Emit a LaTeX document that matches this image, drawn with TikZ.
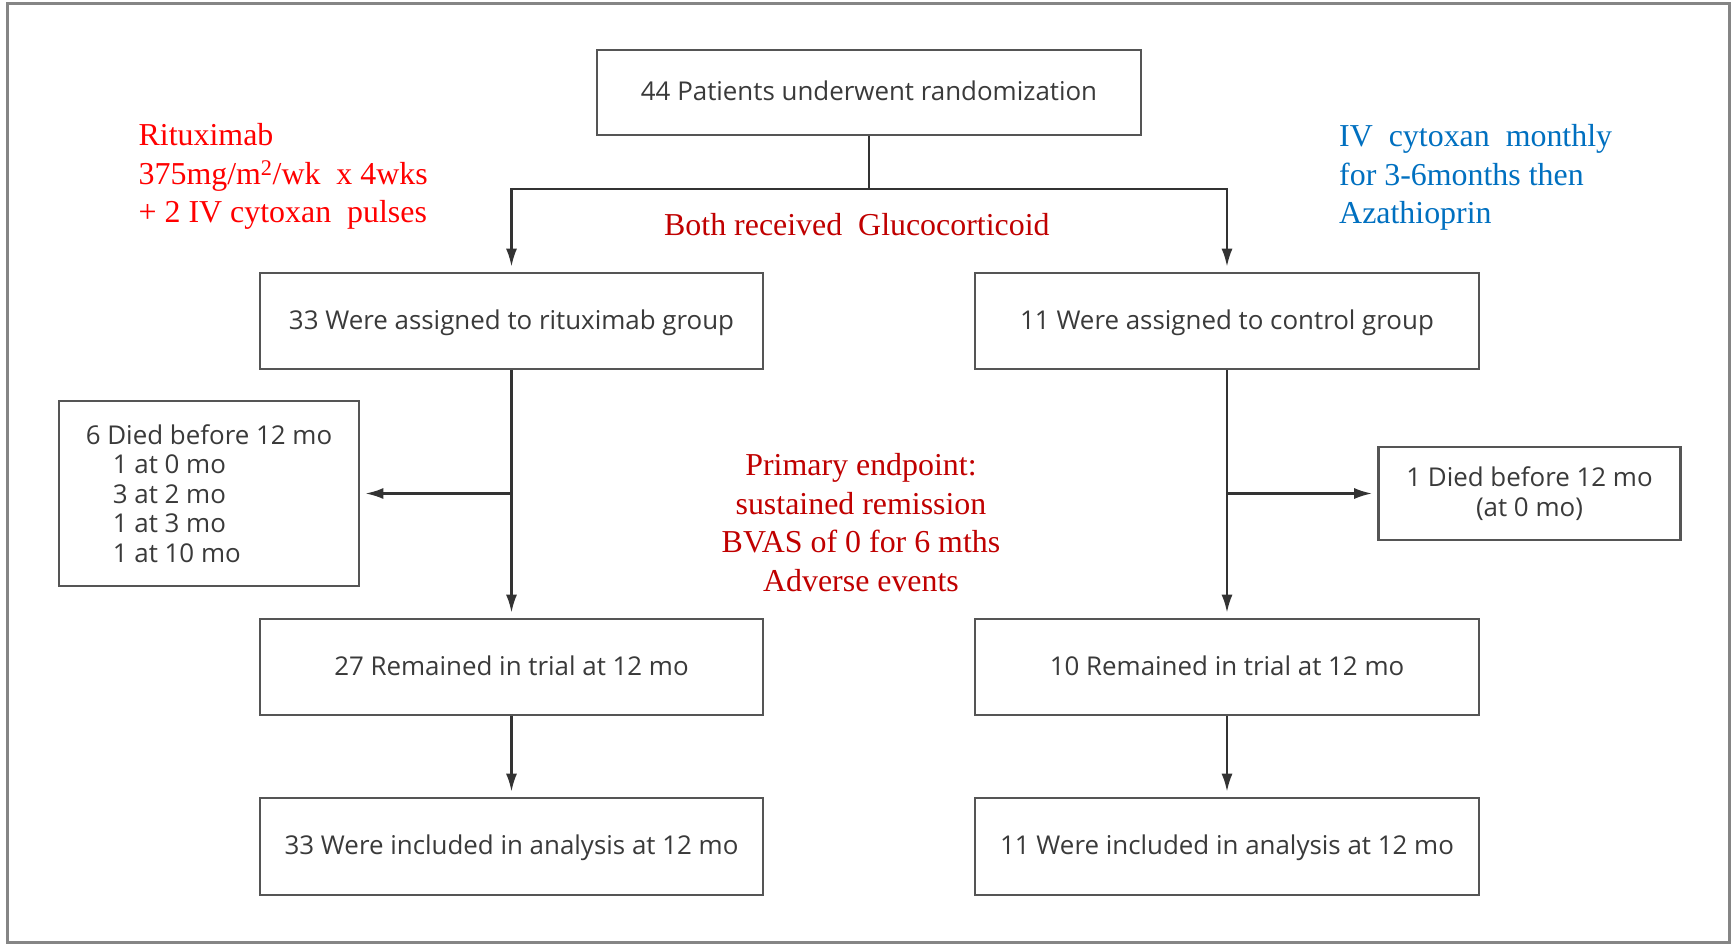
\documentclass[tikz,border=0pt]{standalone}
\usepackage{fontspec}
\setmainfont{Liberation Serif}
\newfontfamily\boxfont{Open Sans}
\usetikzlibrary{arrows.meta}
\definecolor{boxline}{HTML}{555555}
\definecolor{linecol}{HTML}{333333}
\definecolor{boxtext}{HTML}{3A3A3A}
\definecolor{brightred}{HTML}{FF0000}
\definecolor{darkred}{HTML}{C00000}
\definecolor{bluetext}{HTML}{0070C0}
\definecolor{framecol}{HTML}{858585}
\begin{document}
\begin{tikzpicture}[x=1pt,y=-1pt,
  flowbox/.style={draw=boxline, line width=2.6pt, rectangle, inner sep=0pt,
    font=\boxfont\fontsize{25.9}{29.5}\selectfont, text=boxtext},
  single/.style={flowbox, text height=16pt, text depth=0pt},
  conn/.style={draw=linecol, line width=2.4pt},
  arr/.style={conn, -{Latex[length=18pt,width=11pt]}, shorten >=5pt},
  note/.style={inner sep=0pt, font=\fontsize{31.9}{38.5}\selectfont},
]
\useasboundingbox (0,0) rectangle (1734,944);
\fill[white] (0,0) rectangle (1734,944);
\draw[draw=framecol, line width=3pt] (7.7,4) rectangle (1729,942);

% boxes
\node[single, minimum width=544pt, minimum height=85pt] (top) at (869,92.5) {44 Patients underwent randomization};
\node[single, minimum width=503pt, minimum height=96pt] (rit) at (511.5,321) {33 Were assigned to rituximab group};
\node[single, minimum width=504pt, minimum height=96pt] (ctl) at (1227,321) {11 Were assigned to control group};
\node[flowbox, align=left, minimum width=300pt, minimum height=185pt] (diedL) at (209,493.5)
  {6 Died before 12 mo\\\hspace*{27pt}1 at 0 mo\\\hspace*{27pt}3 at 2 mo\\\hspace*{27pt}1 at 3 mo\\\hspace*{27pt}1 at 10 mo};
\node[flowbox, align=center, minimum width=302pt, minimum height=93pt] (diedR) at (1529.5,493.5)
  {1 Died before 12 mo\\(at 0 mo)};
\node[single, minimum width=503pt, minimum height=96pt] (remL) at (511.5,667) {27 Remained in trial at 12 mo};
\node[single, minimum width=504pt, minimum height=96pt] (remR) at (1227,667) {10 Remained in trial at 12 mo};
\node[single, minimum width=503pt, minimum height=97pt] (incL) at (511.5,846.5) {33 Were included in analysis at 12 mo};
\node[single, minimum width=504pt, minimum height=97pt] (incR) at (1227,846.5) {11 Were included in analysis at 12 mo};

% annotations
\node[note, align=left, anchor=north west, text=brightred] (ritnote) at (138.5,123.4)
  {Rituximab\\375mg/m\textsuperscript{2}/wk~~x 4wks\\+ 2 IV cytoxan~~pulses};
\node[note, align=left, anchor=north west, text=bluetext] (ctlnote) at (1339,124.4)
  {IV~~cytoxan~~monthly\\for 3-6months then\\Azathioprin};
\node[note, anchor=base west, text=darkred] (gluco) at (664,236) {Both received~~Glucocorticoid};
\node[note, align=center, anchor=north, text=darkred] (endpt) at (861,453.4)
  {Primary endpoint:\\sustained remission\\BVAS of 0 for 6 mths\\Adverse events};

% connectors
\coordinate (split) at (869,189);
\draw[conn] (top.south) -- (split);
\draw[arr] (split) -| (rit.north);
\draw[arr] (split) -| (ctl.north);
\draw[arr] (rit.south) -- (remL.north);
\draw[arr] (ctl.south) -- (remR.north);
\coordinate (bL) at (rit.south |- diedL.east);
\coordinate (bR) at (ctl.south |- diedR.west);
\draw[arr] (bL) -- (diedL.east);
\draw[arr] (bR) -- (diedR.west);
\draw[arr] (remL.south) -- (incL.north);
\draw[arr] (remR.south) -- (incR.north);
\end{tikzpicture}
\end{document}
